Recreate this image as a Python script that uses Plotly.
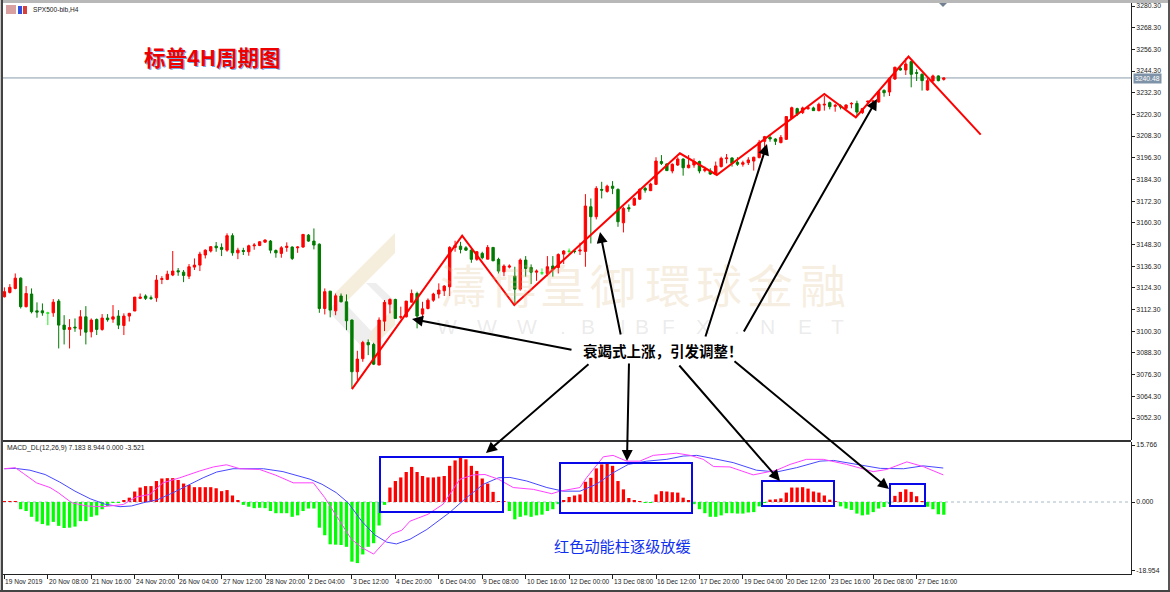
import plotly.graph_objects as go

WIDTH, HEIGHT = 1170, 592

open_p = [3119.4,3121.8,3124.0,3129.7,3113.9,3120.9,3111.6,3111.6,3110.5,3110.5,
3117.0,3103.7,3101.3,3102.6,3101.5,3108.3,3100.0,3106.8,3101.3,3107.6,
3107.0,3108.7,3103.5,3108.7,3111.5,3118.5,3119.8,3118.8,3118.8,3129.0,
3129.0,3131.4,3133.8,3133.0,3130.8,3135.8,3136.9,3142.5,3144.7,3147.4,
3146.7,3145.2,3153.2,3143.7,3145.0,3144.3,3147.6,3147.8,3149.6,3150.2,
3145.0,3143.4,3146.7,3146.9,3146.5,3146.9,3153.5,3150.2,3148.5,3112.9,
3122.5,3111.6,3119.8,3116.6,3106.5,3077.9,3085.1,3094.1,3093.0,3081.6,
3105.9,3115.3,3117.9,3108.1,3108.3,3116.4,3121.2,3109.8,3112.9,3117.5,
3120.9,3122.7,3124.9,3146.7,3147.4,3146.5,3145.2,3140.1,3143.4,3140.2,
3146.7,3140.1,3133.2,3135.8,3130.8,3123.6,3139.7,3135.6,3133.0,3132.7,
3132.3,3136.4,3135.6,3143.0,3144.7,3144.7,3144.7,3144.5,3169.2,3163.7,
3178.8,3177.7,3180.6,3178.8,3160.3,3168.7,3170.1,3173.4,3179.4,3178.1,
3181.6,3194.2,3192.9,3189.0,3192.3,3195.6,3190.8,3192.3,3194.2,3189.2,
3189.0,3187.3,3191.4,3195.8,3196.2,3193.8,3192.7,3193.6,3194.5,3196.4,
3205.4,3207.6,3206.7,3204.7,3206.5,3218.1,3223.5,3221.3,3223.5,3223.9,
3222.4,3225.5,3226.8,3224.8,3225.0,3223.7,3226.1,3226.4,3221.3,3227.2,
3227.2,3227.2,3233.6,3232.7,3239.9,3245.8,3244.9,3249.5,3243.4,3242.5,
3233.8,3238.8,3241.6,3239.7]

high_p = [3124.6,3126.4,3132.3,3130.1,3125.3,3124.0,3116.3,3115.7,3111.1,3118.1,
3118.1,3109.2,3107.0,3107.4,3112.0,3114.2,3107.4,3107.4,3109.8,3109.8,
3114.8,3112.0,3110.2,3110.5,3119.2,3121.2,3120.7,3120.1,3131.4,3130.8,
3133.8,3144.7,3135.3,3134.2,3137.5,3140.6,3144.3,3145.6,3147.4,3149.7,
3148.9,3154.5,3154.5,3146.5,3146.5,3148.2,3149.1,3150.2,3151.1,3150.8,
3145.6,3147.4,3149.5,3147.3,3147.3,3154.1,3154.1,3157.2,3148.9,3124.0,
3122.5,3121.2,3121.2,3120.7,3106.8,3089.5,3095.0,3095.8,3093.9,3108.0,
3117.6,3118.5,3118.3,3113.9,3117.0,3123.4,3122.2,3116.6,3118.5,3121.6,
3126.8,3125.8,3147.4,3150.4,3149.8,3147.4,3146.0,3144.7,3144.3,3148.0,
3146.7,3141.0,3137.3,3137.3,3136.0,3140.6,3141.9,3137.3,3134.5,3135.1,
3141.9,3141.9,3143.4,3145.2,3146.1,3145.2,3149.3,3176.2,3173.8,3180.6,
3183.0,3181.4,3183.4,3179.4,3169.2,3170.5,3174.4,3179.4,3180.3,3182.5,
3196.6,3197.8,3193.2,3193.2,3196.6,3196.0,3197.8,3196.0,3194.7,3191.4,
3190.5,3194.2,3196.9,3198.4,3196.6,3196.6,3194.7,3196.6,3196.9,3206.2,
3208.4,3208.9,3207.1,3208.9,3219.4,3224.6,3224.0,3224.6,3225.0,3224.6,
3226.8,3230.5,3227.4,3226.1,3225.9,3225.9,3227.0,3227.9,3223.9,3227.9,
3228.3,3233.8,3234.2,3240.8,3246.7,3247.1,3251.4,3250.1,3245.3,3243.1,
3240.3,3242.3,3241.9,3240.8]

low_p = [3119.0,3121.2,3123.5,3112.9,3113.5,3110.2,3107.8,3108.9,3103.7,3108.3,
3090.8,3093.0,3090.8,3100.0,3097.8,3093.0,3096.9,3098.2,3100.6,3105.6,
3105.0,3101.5,3098.2,3105.7,3111.5,3118.1,3117.6,3117.6,3116.6,3126.4,
3128.6,3130.8,3131.0,3127.5,3129.2,3134.2,3133.6,3140.6,3143.9,3144.3,
3141.9,3144.3,3142.1,3140.2,3142.5,3142.1,3145.4,3147.4,3149.3,3143.4,
3141.0,3141.0,3144.3,3139.7,3143.7,3146.5,3149.8,3145.6,3110.5,3109.6,
3108.0,3109.2,3116.3,3100.9,3068.7,3073.3,3083.4,3087.1,3081.6,3081.6,
3100.4,3110.2,3107.4,3107.0,3107.9,3116.3,3101.9,3106.8,3112.4,3116.6,
3118.5,3119.8,3119.8,3144.3,3143.4,3144.8,3138.2,3139.3,3140.1,3140.1,
3139.1,3132.3,3130.8,3135.1,3115.3,3122.7,3130.5,3126.4,3128.2,3131.4,
3130.8,3130.5,3132.3,3137.5,3143.0,3143.4,3142.5,3136.0,3148.9,3162.2,
3173.8,3177.0,3176.2,3158.1,3155.0,3166.4,3169.8,3172.9,3177.0,3177.9,
3181.2,3192.3,3189.0,3187.7,3191.8,3186.4,3190.5,3190.8,3187.7,3188.3,
3186.8,3187.0,3191.0,3193.2,3191.4,3191.8,3191.4,3192.3,3189.2,3196.0,
3199.7,3205.2,3203.4,3204.3,3206.2,3217.6,3219.4,3220.5,3222.8,3222.2,
3222.0,3222.4,3223.1,3221.8,3223.1,3223.1,3223.7,3219.4,3220.5,3226.4,
3226.4,3226.8,3230.1,3230.5,3239.4,3244.5,3242.1,3235.3,3238.8,3233.5,
3233.5,3238.4,3238.6,3239.0]

close_p = [3122.2,3124.6,3129.7,3113.9,3121.2,3111.1,3110.9,3110.5,3110.3,3116.4,
3103.7,3101.3,3102.4,3102.2,3108.3,3099.8,3106.5,3101.3,3107.6,3106.7,
3108.3,3103.7,3108.7,3110.2,3119.2,3119.2,3118.5,3118.5,3128.6,3129.4,
3131.9,3133.6,3133.2,3131.2,3136.0,3136.9,3143.0,3145.2,3147.1,3146.5,
3145.6,3153.2,3143.7,3145.2,3144.5,3147.6,3148.0,3149.8,3150.8,3145.2,
3143.7,3146.5,3147.3,3140.6,3146.9,3153.9,3150.2,3148.0,3112.9,3122.2,
3112.0,3119.9,3116.6,3106.1,3077.9,3084.9,3094.1,3092.8,3082.1,3106.5,
3116.3,3117.9,3107.4,3108.3,3117.0,3121.2,3108.7,3112.7,3117.5,3120.9,
3123.1,3125.3,3146.7,3147.8,3145.6,3145.2,3140.1,3144.3,3141.0,3146.7,
3139.3,3133.6,3136.4,3136.4,3123.6,3139.7,3135.1,3133.0,3133.6,3132.5,
3136.0,3134.5,3142.8,3144.7,3144.5,3144.5,3145.2,3169.6,3163.7,3179.4,
3178.4,3180.6,3179.4,3160.9,3168.3,3168.1,3173.8,3178.8,3178.4,3181.8,
3194.5,3193.2,3189.2,3192.7,3195.6,3190.8,3192.3,3194.2,3189.0,3189.9,
3187.3,3191.8,3196.0,3196.2,3193.2,3192.7,3193.6,3195.1,3196.6,3204.9,
3208.0,3206.7,3205.4,3207.6,3219.1,3224.0,3220.5,3223.9,3224.0,3222.4,
3225.9,3225.9,3224.6,3225.3,3224.4,3225.5,3226.4,3221.6,3223.5,3227.6,
3227.7,3232.9,3232.3,3240.3,3246.4,3244.9,3248.2,3242.5,3243.1,3239.0,
3239.0,3241.6,3239.0,3240.48]

# bars drawn in the terminal's pale lime instead of dark green
lime_bars = [8, 99, 104]

macd_hist = [.05,.05,.2,-2.0,-2.5,-4.1,-5.4,-6.1,-6.5,-5.5,
-6.6,-7.2,-7.1,-6.8,-5.3,-5.3,-4.1,-3.7,-2.0,-1.1,
-.1,-.05,.55,1.2,2.9,4.0,4.4,4.4,5.8,6.5,
6.6,6.6,6.1,5.1,4.7,4.1,4.1,4.1,4.1,3.8,
3.0,3.3,1.8,.55,-.8,-1.3,-1.7,-1.6,-1.7,-2.5,
-3.1,-3.1,-3.1,-4.1,-3.7,-2.5,-1.8,-1.8,-7.1,-9.2,
-11.7,-11.8,-11.9,-12.4,-16.5,-16.9,-14.5,-12.4,-11.4,-6.5,
-.8,4.0,5.8,6.8,8.3,9.7,8.3,7.2,6.8,6.8,
7.0,7.2,10.0,11.5,12.3,11.8,10.0,8.6,6.5,5.1,
2.8,.05,.05,-2.5,-4.8,-4.1,-3.7,-4.1,-3.7,-3.5,
-2.5,-2.0,-.6,.55,1.4,1.8,2.1,5.6,6.7,9.3,
10.4,10.6,10.0,5.8,3.5,1.1,.3,.05,-.2,-.1,
2.1,3.0,2.9,2.7,2.6,1.2,.3,-.6,-2.0,-3.1,
-4.1,-4.1,-3.7,-3.1,-3.1,-3.2,-3.2,-2.9,-2.8,-1.2,
-.1,.65,.75,1.0,2.6,4.0,4.0,4.1,3.7,2.9,
2.6,1.8,.65,.05,-1.2,-1.8,-2.2,-3.2,-3.7,-3.5,
-2.8,-1.8,-1.4,-.3,1.7,2.8,3.5,2.8,1.6,.05,
-1.3,-2.0,-3.4,-3.52]

blue_x = [0,2,4.7,7.5,10.2,13,15.8,18.5,21.3,23.4,25.6,28.3,31.1,33.8,36.6,39.1,42.1,47.7,51.3,56.3,
58.5,61.1,63.3,65.8,68.2,70.4,72.2,74.7,77.8,82,85.1,88.2,91,93.1,96.2,99.9,102.9,106,109,112.1,
114.9,118.3,122,125,127.5,130.6,134.2,138.5,142.2,145.9,150.2,152.7,156.4,161.3,165.6,169.2,172.9]
blue_y = [9.2,9.3,8.8,7.6,5.5,3.0,.9,-.6,-1.3,-1.1,-.2,.7,2.6,4.6,6.7,8.3,9.2,9.2,8.4,6.3,
4.9,2.6,-.2,-5.3,-9.1,-11.1,-11.6,-10.3,-7.6,-2.9,1.2,4.9,6.7,6.8,5.8,4.0,3.0,3.0,4.9,8.1,
10.4,11.3,11.8,12.7,12.9,12.0,10.9,8.8,8.3,9.5,11.3,11.5,10.6,9.3,9.2,10.0,9.4]

magenta_x = [0,2,3.5,5.9,8.4,9.9,12.4,15.1,18.2,21.9,24.3,26.8,29.2,32.3,36,38.5,40.9,43.4,47,50,
53.2,56.9,59,61.8,63.9,65.8,68,71.3,73.2,74.7,78,80.8,83.9,86.4,88.5,91,93.7,97.4,100.8,102.3,
106,107.2,110.3,112.1,114.6,117,119.5,123.8,126.3,128.7,130.6,133.6,137.9,142.2,144.7,147.7,150.8,155.1,160,162.5,166.2,169.2,172.9]
magenta_y = [9.2,9.5,7.9,5.3,4.0,2.6,-.2,-1.1,-1.3,-.7,1.4,2.1,5.3,6.7,8.6,9.7,10.3,9.2,9.0,7.4,
5.3,5.3,1.2,-5.3,-10.3,-12.6,-14.4,-8.9,-7.8,-5.3,-3.4,-.6,6.3,7.5,7.6,6.3,4.0,3.5,2.3,3.0,
4.0,6.7,12.5,12.9,11.3,11.3,12.9,13.5,12.9,11.8,9.8,9.7,7.5,8.8,10.4,11.8,11.8,10.4,8.4,9.0,11.1,9.8,7.5]

zigzag_x = [64,84.3,93.9,124.4,131.2,151,156.8,166.5,179.8]
zigzag_y = [3068.3,3153.2,3114.8,3198.8,3186.8,3231.6,3218.7,3252.3,3209.1]

price_ticks = [3280.30,3268.30,3256.30,3244.30,3232.30,3220.30,3208.30,3196.30,3184.30,3172.30,
3160.30,3148.30,3136.30,3124.30,3112.30,3100.30,3088.30,3076.30,3064.30,3052.30]
macd_ticks = [15.766,0,-18.954]
macd_labels = ["15.766","0.000","-18.954"]
time_tick_bars = [0,8,16,24,32,40,48,56,64,72,80,88,96,104,112,120,128,136,144,152,160,168]
time_labels = ["19 Nov 2019","20 Nov 08:00","21 Nov 16:00","24 Nov 20:00","26 Nov 04:00","27 Nov 12:00",
"28 Nov 20:00","2 Dec 04:00","3 Dec 12:00","4 Dec 20:00","6 Dec 04:00","9 Dec 08:00","10 Dec 16:00",
"12 Dec 00:00","13 Dec 08:00","16 Dec 12:00","17 Dec 20:00","19 Dec 04:00","20 Dec 12:00","23 Dec 16:00",
"26 Dec 08:00","27 Dec 16:00"]
last_price = 3240.48

PX_PER_BAR = 5.43
BAR0_PX = 4.4
PLOT_L, PLOT_R = 3, 1131
CJK = "Noto Sans CJK SC"
UI = "Liberation Sans"


def px(x, y):
    return x / WIDTH, 1 - y / HEIGHT


def bar_of(x):
    return (x - BAR0_PX) / PX_PER_BAR


n = len(open_p)
bars = list(range(n))
regular = [i for i in bars if i not in lime_bars]


def pick(seq, idx):
    return [seq[i] for i in idx]


fig = go.Figure()
for idx, down in ((regular, "#007a00"), (lime_bars, "#22ee22")):
    fig.add_trace(go.Candlestick(
        x=idx, open=pick(open_p, idx), high=pick(high_p, idx), low=pick(low_p, idx), close=pick(close_p, idx),
        increasing=dict(line=dict(color="#ff0000", width=1), fillcolor="#ff0000"),
        decreasing=dict(line=dict(color=down, width=1), fillcolor=down),
        whiskerwidth=0, showlegend=False, hoverinfo="skip", xaxis="x", yaxis="y"))
fig.add_trace(go.Scatter(x=zigzag_x, y=zigzag_y, mode="lines", line=dict(color="#ff0000", width=2),
                         showlegend=False, hoverinfo="skip", xaxis="x", yaxis="y"))
fig.add_trace(go.Bar(x=bars, y=macd_hist, width=0.6,
                     marker=dict(color=["#ff0000" if v > 0 else "#00ff00" for v in macd_hist], line_width=0),
                     showlegend=False, hoverinfo="skip", xaxis="x2", yaxis="y2"))
fig.add_trace(go.Scatter(x=blue_x, y=blue_y, mode="lines", line=dict(color="#4848ff", width=1),
                         showlegend=False, hoverinfo="skip", xaxis="x2", yaxis="y2"))
fig.add_trace(go.Scatter(x=magenta_x, y=magenta_y, mode="lines", line=dict(color="#ff40ff", width=1),
                         showlegend=False, hoverinfo="skip", xaxis="x2", yaxis="y2"))

shapes = []
ann = []


def rect(x0, y0, x1, y1, fill, layer="below"):
    a, b = px(x0, y0)
    c, d = px(x1, y1)
    shapes.append(dict(type="rect", xref="paper", yref="paper", x0=a, y0=b, x1=c, y1=d,
                       fillcolor=fill, line_width=0, layer=layer))


def poly(points, fill):
    path = "M " + " L ".join("{:.5f},{:.5f}".format(*px(*p)) for p in points) + " Z"
    shapes.append(dict(type="path", xref="paper", yref="paper", path=path, fillcolor=fill,
                       line_width=0, layer="below"))


def text(x, y, s, size, color, family=UI, bold=False, anchor="left"):
    a, b = px(x, y)
    ann.append(dict(xref="paper", yref="paper", x=a, y=b, text="<b>%s</b>" % s if bold else s,
                    showarrow=False, xanchor=anchor, yanchor="middle",
                    font=dict(size=size, color=color, family=family)))


def arrow(tx, ty, hx, hy):
    a, b = px(hx, hy)
    ann.append(dict(xref="paper", yref="paper", x=a, y=b, text="", showarrow=True, axref="pixel", ayref="pixel",
                    ax=tx - hx, ay=ty - hy, arrowhead=2, arrowsize=1.1, arrowwidth=2, arrowcolor="#000000",
                    standoff=0, startstandoff=0))


# logo + watermark
poly([(335, 293), (395, 233), (395, 253), (345, 303)], "#f6eedd")
poly([(366, 336), (395, 307), (395, 325), (375, 345)], "#f6eedd")
poly([(328, 311), (340, 298), (372, 332), (364, 349)], "#eeeeee")
poly([(366, 283), (376, 283), (395, 301), (395, 312)], "#eeeeee")
for ch, x in zip("濤博皇御環球金融", [463, 513, 563, 613, 668, 719, 770, 823]):
    text(x, 283, ch, 46, "rgba(226,190,140,0.27)", CJK, anchor="center")
for ch, x in zip("WWW.BIBFX.NET", [447, 487, 527, 563, 588, 623, 642, 668, 703, 737, 767, 805, 837]):
    text(x, 326.5, ch, 21, "rgba(170,170,170,0.24)", UI, anchor="center")

# window chrome
rect(0, 0, WIDTH, 3, "#b8b8b8", "above")
rect(0, 0, 1, HEIGHT, "#c8c8c8", "above")
rect(1, 0, 3, HEIGHT, "#444444", "above")
rect(WIDTH - 2, 0, WIDTH, HEIGHT, "#555555", "above")
rect(0, 590, WIDTH, 592, "#444444", "above")
rect(3, 440, PLOT_R, 442, "#333333", "above")
a, b = px(939, 3)
c, d = px(947, 3)
e, f = px(943, 7)
shapes.append(dict(type="path", xref="paper", yref="paper",
                   path="M {},{} L {},{} L {},{} Z".format(a, b, c, d, e, f), fillcolor="#708090", line_width=0))

# header icons
rect(6, 5, 16, 14, "#d8a0a0")
rect(18, 6, 22, 14, "#3050e0")
rect(23, 6, 27, 14, "#d84040")

# last price line, macd zero line
shapes.append(dict(type="line", xref="paper", yref="y", x0=PLOT_L / WIDTH, x1=PLOT_R / WIDTH,
                   y0=last_price, y1=last_price, line=dict(color="#8a9bab", width=1), layer="below"))
shapes.append(dict(type="line", xref="paper", yref="y2", x0=PLOT_L / WIDTH, x1=PLOT_R / WIDTH,
                   y0=0, y1=0, line=dict(color="#a8b8c8", width=1, dash="dot"), layer="below"))

# blue boxes
for x0, y0, x1, y1 in [(380, 457, 503, 512), (560, 463, 692, 513), (762, 481, 834, 506), (890, 484, 925, 506)]:
    a, b = px(x0, y0)
    c, d = px(x1, y1)
    shapes.append(dict(type="rect", xref="paper", yref="paper", x0=a, y0=b, x1=c, y1=d,
                       line=dict(color="#0808e8", width=2), fillcolor="rgba(0,0,0,0)", layer="above"))

# texts
text(31, 9.5, "SPX500-bib,H4", 6.6, "#222222")
text(5, 447.5, "MACD_DL(12,26,9) 7.183 8.944 0.000 -3.521", 6.8, "#222222")
text(142.7, 57.7, "标普4H周期图", 21.5, "#7aa5dc", CJK, bold=True)
text(142, 57, "标普4H周期图", 21.5, "#ee0000", CJK, bold=True)
text(663, 350, "<b>衰竭式上涨，引发调整！</b>", 14.5, "#000000", CJK, anchor="center")
text(622.5, 545, "红色动能柱逐级放缓", 15.2, "#1030f0", CJK, anchor="center")

# arrows
arrow(573, 350, 412, 319)
arrow(621, 336, 600, 232)
arrow(705, 338, 767, 144)
arrow(743, 333, 877, 99)
arrow(590, 363, 486, 453)
arrow(629, 362, 627, 461)
arrow(678, 364, 780, 481)
arrow(733, 360, 889, 489)

# time labels, left aligned on their tick as the terminal draws them
for i, lab in zip(time_tick_bars, time_labels):
    a = (BAR0_PX + PX_PER_BAR * i) / WIDTH
    ann.append(dict(xref="paper", yref="paper", x=a, y=px(0, 581)[1], text=lab, showarrow=False, xanchor="left",
                    xshift=-1, yanchor="middle", font=dict(size=6.6, color="#222222", family=UI)))

# last price flag
a, b = px(1133, 78.3)
ann.append(dict(xref="paper", yref="paper", x=a, y=b, text="3240.48", showarrow=False, xanchor="left", yanchor="middle",
                bgcolor="#7f93a8", borderpad=1, font=dict(size=6.8, color="#ffffff", family=UI)))

x_range = [bar_of(PLOT_L), bar_of(PLOT_R)]
dom_x = [PLOT_L / WIDTH, PLOT_R / WIDTH]
P_SCALE = 1.807
Y0_P = 3280.3
tick_font = dict(size=6.8, color="#222222", family=UI)

fig.update_layout(
    width=WIDTH, height=HEIGHT, autosize=False, margin=dict(l=0, r=0, t=0, b=0),
    paper_bgcolor="#ffffff", plot_bgcolor="rgba(0,0,0,0)", showlegend=False, barmode="overlay", boxgap=0.38,
    shapes=shapes, annotations=ann,
    xaxis=dict(domain=dom_x, range=x_range, anchor="y", showticklabels=False, ticks="", showgrid=False,
               zeroline=False, rangeslider=dict(visible=False), showline=False),
    xaxis2=dict(domain=dom_x, range=x_range, anchor="y2", tickmode="array", tickvals=time_tick_bars,
                ticktext=[""] * len(time_tick_bars), ticks="outside", ticklen=4, tickcolor="#222222", showgrid=False,
                zeroline=False, showline=True, linecolor="#222222", linewidth=1),
    yaxis=dict(domain=[1 - 440 / HEIGHT, 1 - 3 / HEIGHT], anchor="x", side="right",
               range=[Y0_P - 434 / P_SCALE, Y0_P + 3 / P_SCALE], tickmode="array", tickvals=price_ticks,
               ticktext=["%.2f" % v for v in price_ticks], ticks="outside", ticklen=3, tickcolor="#222222",
               showgrid=False, zeroline=False, showline=True, linecolor="#222222", linewidth=1, tickfont=tick_font),
    yaxis2=dict(domain=[1 - 574 / HEIGHT, 1 - 442 / HEIGHT], anchor="x2", side="right",
                range=[-72 / 3.615, 60 / 3.615], tickmode="array", tickvals=macd_ticks, ticktext=macd_labels,
                ticks="outside", ticklen=3, tickcolor="#222222", showgrid=False, zeroline=False, showline=True,
                linecolor="#222222", linewidth=1, tickfont=tick_font),
)

fig.write_html("out.html", config={"displayModeBar": False},
               post_script="document.body.style.margin='0';document.body.style.overflow='hidden';")
